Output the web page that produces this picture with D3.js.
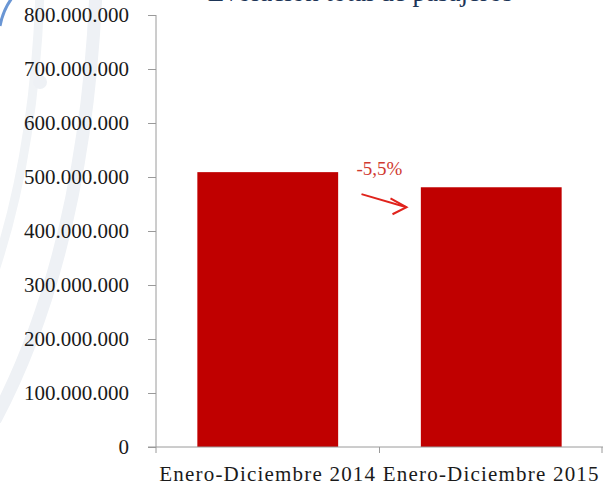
<!DOCTYPE html>
<html>
<head>
<meta charset="utf-8">
<script src="https://cdn.jsdelivr.net/npm/d3@7"></script>
<style>
  body { margin: 0; background: #fff; }
  svg { display: block; }
</style>
</head>
<body>
<svg id="chart"></svg>
<script>
// data
var periods = ["Enero-Diciembre 2014", "Enero-Diciembre 2015"];
var passengers = [509000000, 481000000];
var yTicks = [0, 100000000, 200000000, 300000000, 400000000, 500000000, 600000000, 700000000, 800000000];
var changeLabel = "-5,5%";

var SERIF = "'Liberation Serif', serif";

var width = 603,
    height = 491;

var svg = d3.select("#chart")
    .attr("width", width)
    .attr("height", height);

// faint watermark arcs on the left
var deco = svg.append("g").attr("fill", "none");
deco.append("path")
    .attr("d", "M96,-10 Q85,250 -5,420")
    .attr("stroke", "#eef1f5")
    .attr("stroke-width", 13);
deco.append("path")
    .attr("d", "M40,-10 Q35,150 -5,270")
    .attr("stroke", "#f0f3f6")
    .attr("stroke-width", 9);
deco.append("circle")
    .attr("cx", 40).attr("cy", 82).attr("r", 7)
    .attr("fill", "#eef1f5");
deco.append("path")
    .attr("d", "M0,26 Q3,10 12,-2")
    .attr("stroke", "#6a96d4")
    .attr("stroke-width", 3);

// title, mostly cut off by the top edge
svg.append("text")
    .attr("x", 513)
    .attr("y", 1)
    .attr("text-anchor", "end")
    .style("font-family", SERIF)
    .style("font-size", "27px")
    .style("fill", "#1d3557")
    .text("Evolución total de pasajeros");

var margin = {top: 15, right: 0, bottom: 44, left: 156};

var x = d3.scaleBand()
    .domain(periods)
    .range([margin.left, width - margin.right])
    .paddingInner(0.37)
    .paddingOuter(0.185);

var y = d3.scaleLinear()
    .domain([0, 800000000])
    .range([height - margin.bottom, margin.top]);

var fmt = function(d) {
    return d3.format(",")(d).replace(/,/g, ".");
};

// bars
svg.selectAll(".bar")
    .data(passengers)
    .enter().append("rect")
    .attr("class", "bar")
    .attr("x", function(d, i) { return x(periods[i]); })
    .attr("y", function(d) { return y(d); })
    .attr("width", x.bandwidth())
    .attr("height", function(d) { return y(0) - y(d); })
    .attr("fill", "#c00000");

// y axis
var yAxis = svg.append("g")
    .attr("transform", "translate(" + margin.left + ",0)")
    .call(d3.axisLeft(y).tickValues(yTicks).tickFormat(fmt).tickSize(8).tickPadding(19));
yAxis.selectAll("text")
    .style("font-family", SERIF)
    .style("font-size", "21px")
    .attr("fill", "#1a1a1a");
yAxis.selectAll("line, path").attr("stroke", "#9a9a9a");
yAxis.select(".domain").attr("d", "M0," + y(800000000) + "V" + y(0));

// x axis, ticks at band edges
var edges = [margin.left, margin.left + (width - margin.left) / 2, width - 1];
var xAxis = svg.append("g")
    .attr("transform", "translate(0," + y(0) + ")");
xAxis.append("line")
    .attr("x1", margin.left - 8).attr("x2", width)
    .attr("stroke", "#9a9a9a");
xAxis.selectAll(".edge")
    .data(edges)
    .enter().append("line")
    .attr("class", "edge")
    .attr("x1", function(d) { return d; })
    .attr("x2", function(d) { return d; })
    .attr("y1", 0).attr("y2", 6)
    .attr("stroke", "#9a9a9a");
xAxis.selectAll(".lbl")
    .data(periods)
    .enter().append("text")
    .attr("class", "lbl")
    .attr("x", function(d) { return x(d) + x.bandwidth() / 2; })
    .attr("y", 34)
    .attr("text-anchor", "middle")
    .style("font-family", SERIF)
    .style("font-size", "21px")
    .style("letter-spacing", "1.2px")
    .style("fill", "#1a1a1a")
    .text(function(d) { return d; });

// change annotation
var midX = (x(periods[0]) + x.bandwidth() + x(periods[1])) / 2;
svg.append("text")
    .attr("x", midX)
    .attr("y", y(passengers[0]) + 3)
    .attr("text-anchor", "middle")
    .style("font-family", SERIF)
    .style("font-size", "19px")
    .style("fill", "#d03a30")
    .text(changeLabel);

var ax0 = midX - 18, ay0 = y(passengers[0]) + 22,
    ax1 = midX + 27, ay1 = y(passengers[1]) + 20;
var arrow = svg.append("g")
    .attr("stroke", "#e0231c")
    .attr("stroke-width", 2)
    .attr("fill", "none");
arrow.append("line")
    .attr("x1", ax0).attr("y1", ay0)
    .attr("x2", ax1).attr("y2", ay1);
arrow.append("path")
    .attr("d", "M" + (ax1 - 16) + "," + (ay1 - 9) + "L" + ax1 + "," + ay1 + "L" + (ax1 - 14) + "," + (ay1 + 7));
</script>
</body>
</html>
